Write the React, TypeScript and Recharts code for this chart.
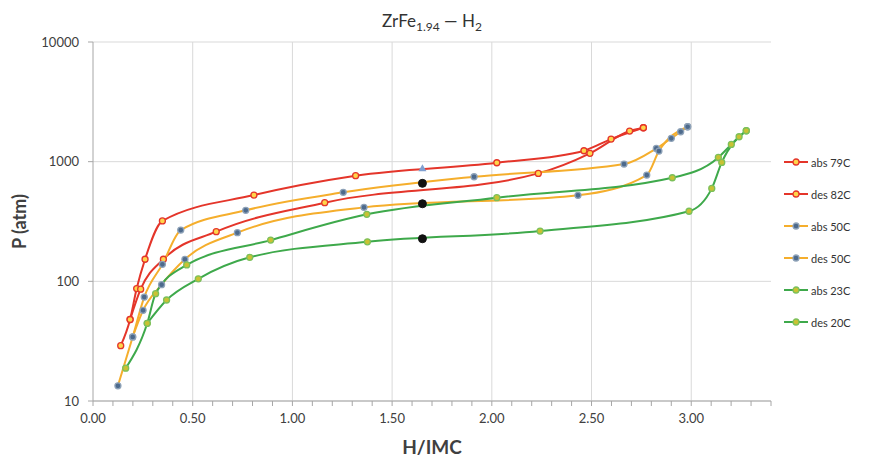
import React from 'react';
import { ComposedChart, Line, XAxis, YAxis, CartesianGrid, ReferenceLine, Label } from 'recharts';

// [H/IMC, P atm]
const abs79C = [[0.139, 29], [0.186, 48], [0.219, 87], [0.261, 153], [0.348, 320], [0.807, 526], [1.317, 763], [2.025, 979], [2.462, 1234], [2.598, 1545], [2.76, 1920]];
const des82C = [[0.186, 48], [0.239, 86], [0.353, 153], [0.618, 260], [1.162, 454], [2.233, 798], [2.492, 1173], [2.691, 1802], [2.76, 1920]];
const abs50C = [[0.125, 13.4], [0.199, 34.3], [0.257, 73.9], [0.348, 138.6], [0.44, 268], [0.766, 392], [1.255, 554], [1.911, 748], [2.663, 955], [2.825, 1291], [2.9, 1566], [2.947, 1778], [2.982, 1958]];
const des50C = [[0.199, 34.3], [0.251, 57.2], [0.344, 93.7], [0.461, 152.7], [0.724, 255], [1.359, 415], [2.432, 523], [2.777, 773], [2.838, 1227], [2.982, 1958]];
const abs23C = [[0.164, 18.8], [0.272, 44.6], [0.314, 78.8], [0.47, 137], [0.891, 221], [1.373, 363], [2.025, 500], [2.905, 734], [3.136, 1086], [3.201, 1394], [3.24, 1615], [3.276, 1813]];
const des20C = [[0.272, 44.6], [0.369, 69.8], [0.528, 105], [0.786, 158.7], [1.376, 214], [2.242, 263], [2.989, 385], [3.103, 598], [3.153, 986], [3.276, 1813]];
const blackDots = [[1.652, 659], [1.652, 445], [1.652, 227]];
const blueMark = [[1.652, 879]];

const xMajor = [0, 0.5, 1, 1.5, 2, 2.5, 3];
const xMinor = Array.from({ length: 35 }, (_, i) => Math.round(i * 10) / 100);
const yTicks = [10, 100, 1000, 10000];

const RED = '#e4352a';
const ORANGE = '#f5ae2c';
const GREEN = '#3ea94b';

const series = [
  { name: 'abs 79C', data: abs79C, stroke: RED, fill: '#ffd54a', mstroke: RED },
  { name: 'des 82C', data: des82C, stroke: RED, fill: '#ffd54a', mstroke: RED },
  { name: 'abs 50C', data: abs50C, stroke: ORANGE, fill: '#4d6a8c', mstroke: '#8ea2b8' },
  { name: 'des 50C', data: des50C, stroke: ORANGE, fill: '#4d6a8c', mstroke: '#8ea2b8' },
  { name: 'abs 23C', data: abs23C, stroke: GREEN, fill: '#c9c233', mstroke: '#7cc05a' },
  { name: 'des 20C', data: des20C, stroke: GREEN, fill: '#c9c233', mstroke: '#7cc05a' },
];

const toPts = (arr: number[][]) => arr.map(([x, p]) => ({ x, p }));
const FONT = 'Lato, "Open Sans", sans-serif';

const Triangle = (props: any) => {
  const { cx, cy } = props;
  if (cx == null || cy == null) return null;
  return <path d={`M${cx},${cy - 4} L${cx + 4},${cy + 3} L${cx - 4},${cy + 3} Z`} fill="#7f9fd0" />;
};

export default function App() {
  return (
    <div style={{ position: 'absolute', left: 0, top: 0, width: 878, height: 462, background: '#fff', fontFamily: FONT }}>
      <div style={{ position: 'absolute', left: 0, width: 864, top: 10, textAlign: 'center', fontSize: 17, color: '#333' }}>
        ZrFe<sub style={{ fontSize: 12 }}>1.94</sub> — H<sub style={{ fontSize: 12 }}>2</sub>
      </div>
      <ComposedChart width={878} height={462} margin={{ top: 42, right: 107, bottom: 0, left: 0 }}>
        <CartesianGrid vertical={false} stroke="#d9d9d9" />
        {xMajor.slice(1).map((v) => (
          <ReferenceLine key={v} x={v} stroke="#d9d9d9" />
        ))}
        <XAxis
          type="number"
          dataKey="x"
          domain={[0, 3.4]}
          ticks={xMinor}
          interval={0}
          allowDataOverflow
          tickFormatter={(v: number) => (xMajor.includes(v) ? v.toFixed(2) : '')}
          stroke="#a6a6a6"
          tickSize={5}
          tickMargin={8}
          tick={{ fill: '#404040', fontSize: 13, fontFamily: FONT }}
          height={61}
        >
          <Label value="H/IMC" position="insideBottom" offset={8} style={{ fontSize: 19, fontWeight: 700, fill: '#404040', fontFamily: FONT }} />
        </XAxis>
        <YAxis
          type="number"
          dataKey="p"
          scale="log"
          domain={[10, 10000]}
          ticks={yTicks}
          allowDataOverflow
          interval={0}
          stroke="#a6a6a6"
          tickSize={5}
          tickMargin={9}
          width={93}
          tick={{ fill: '#404040', fontSize: 13, fontFamily: FONT }}
        >
          <Label value="P (atm)" angle={-90} position="insideLeft" offset={20} style={{ fontSize: 18, fontWeight: 700, fill: '#404040', textAnchor: 'middle', fontFamily: FONT }} />
        </YAxis>
        {series.map((s) => (
          <Line
            key={s.name}
            data={toPts(s.data)}
            dataKey="p"
            type="monotone"
            stroke={s.stroke}
            strokeWidth={2}
            dot={{ r: 3, fill: s.fill, stroke: s.mstroke, strokeWidth: 1.3 }}
            isAnimationActive={false}
          />
        ))}
        <Line data={toPts(blueMark)} dataKey="p" stroke="none" dot={<Triangle />} isAnimationActive={false} />
        <Line data={toPts(blackDots)} dataKey="p" stroke="none" dot={{ r: 4, fill: '#111', stroke: '#111' }} isAnimationActive={false} />
      </ComposedChart>
      <div style={{ position: 'absolute', left: 784, top: 146 }}>
        {series.map((s) => (
          <div key={s.name} style={{ display: 'flex', alignItems: 'center', height: 32, fontSize: 11, color: '#333' }}>
            <svg width={24} height={10} style={{ marginRight: 3 }}>
              <line x1={0} y1={5} x2={24} y2={5} stroke={s.stroke} strokeWidth={2} />
              <circle cx={12} cy={5} r={3} fill={s.fill} stroke={s.mstroke} strokeWidth={1.3} />
            </svg>
            {s.name}
          </div>
        ))}
      </div>
    </div>
  );
}
